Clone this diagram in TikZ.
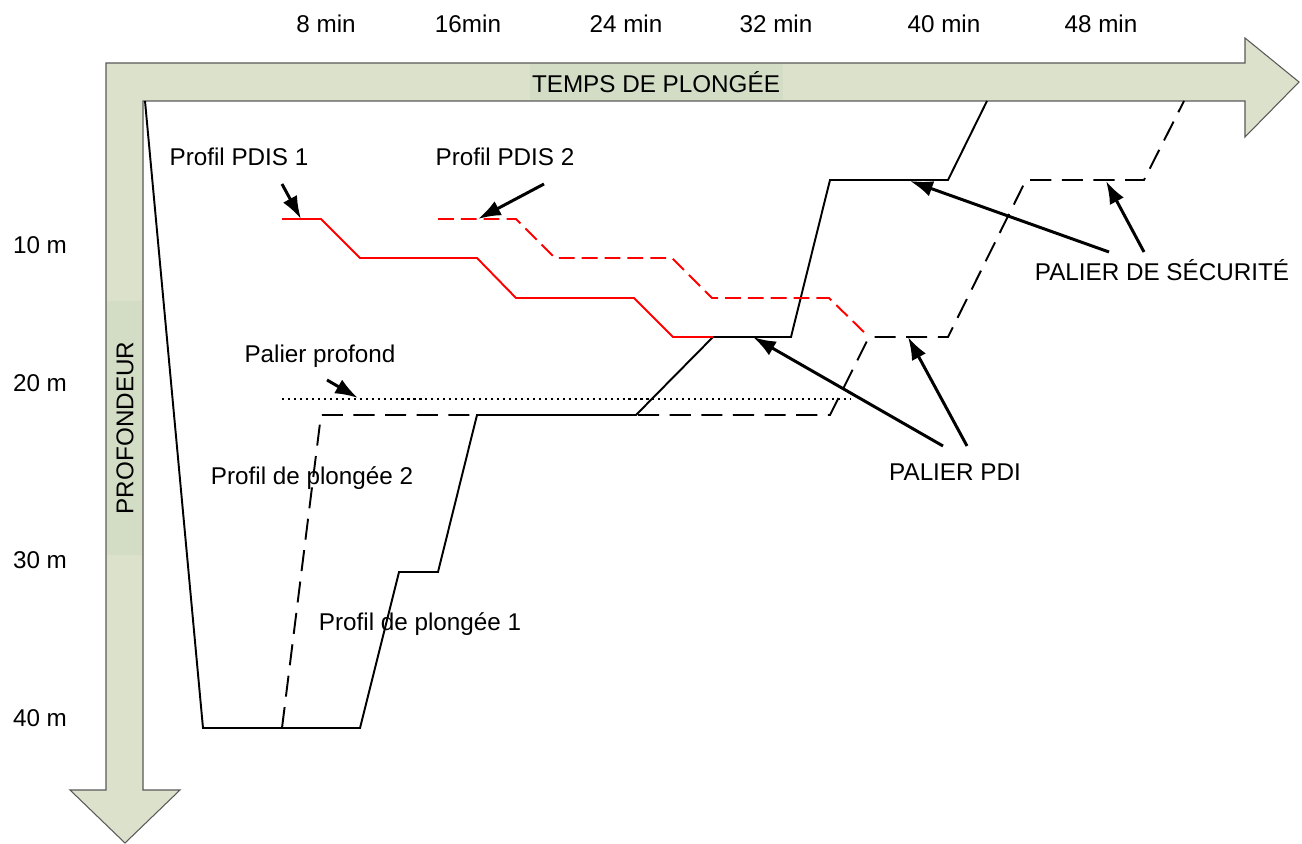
\documentclass[tikz,border=0pt]{standalone}
\usepackage{fontspec}
\setmainfont{Liberation Sans}
\usepackage{xcolor}
\usepackage{tikz}
\usetikzlibrary{arrows.meta}
\definecolor{axisfill}{RGB}{220,225,204}
\definecolor{axislabel}{RGB}{211,221,197}
\definecolor{pdisred}{RGB}{255,0,0}

\begin{document}
\begin{tikzpicture}[x=0.02cm, y=-0.02cm,
  axisarrow/.style={draw=black!65, fill=axisfill, line width=0.6pt},
  labelnode/.style={font=\fontsize{13.8}{17}\selectfont, inner sep=0pt},
  profil/.style={line width=1.1pt, line join=miter},
  pointer/.style={line width=1.7pt, -{Latex[length=13pt,width=9pt]}}]

\useasboundingbox (0,0) rectangle (1302,844);

\filldraw[axisarrow] (106,63) -- (1245,63) -- (1245,38) -- (1299,82) -- (1245,137) -- (1245,101) -- (143,101) -- (143,790) -- (180,790) -- (125,843) -- (70,790) -- (106,790) -- cycle;
\fill[axislabel] (530,64) rectangle (783,100);
\fill[axislabel] (107,301) rectangle (142,555);

\node[labelnode] at (656,82) (temps) {TEMPS DE PLONGÉE};
\node[labelnode, rotate=90] at (125,428) (profondeur) {PROFONDEUR};

\node[labelnode] at (326,24) (t8) {8 min};
\node[labelnode] at (468,24) (t16) {16min};
\node[labelnode] at (626,24) (t24) {24 min};
\node[labelnode] at (776,24) (t32) {32 min};
\node[labelnode] at (944,24) (t40) {40 min};
\node[labelnode] at (1101,24) (t48) {48 min};

\node[labelnode] at (40,245) (d10) {10 m};
\node[labelnode] at (40,383) (d20) {20 m};
\node[labelnode] at (40,560) (d30) {30 m};
\node[labelnode] at (40,718) (d40) {40 m};

\draw[profil] (145,101) -- (203,728) -- (360,728) -- (399,572) -- (438,572) -- (477,415) -- (636,415) -- (713,337) -- (791,337) -- (830,180) -- (948,180) -- (987,101);
\draw[profil, dash pattern=on 12pt off 6pt] (282,728) -- (321,415) -- (830,415) -- (869,337) -- (948,337) -- (1026,180) -- (1144,180) -- (1184,101);
\draw[profil, pdisred] (282,219) -- (321,219) -- (360,258) -- (477,258) -- (516,298) -- (634,298) -- (673,337) -- (713,337);
\draw[profil, pdisred, dash pattern=on 9pt off 4pt] (438,219) -- (516,219) -- (555,258) -- (672,258) -- (712,298) -- (829,298) -- (869,337);
\draw[line width=1pt, dash pattern=on 1.2pt off 2.2pt] (282,399) -- (851,399);

\node[labelnode] at (239,157) (pdis1) {Profil PDIS 1};
\node[labelnode] at (505,157) (pdis2) {Profil PDIS 2};
\node[labelnode] at (320,356) (profond) {Palier profond};
\node[labelnode] at (312,478) (plongee2) {Profil de plongée 2};
\node[labelnode] at (420,624) (plongee1) {Profil de plongée 1};
\node[labelnode] at (955,472) (pdi) {PALIER PDI};
\node[labelnode] at (1162,270) (securite) {PALIER DE SÉCURITÉ};

\coordinate (pdis1from) at (282,184);
\coordinate (pdis1to) at (301,219);
\coordinate (pdis2from) at (544,184);
\coordinate (pdis2to) at (478,219);
\coordinate (profondfrom) at (327,380);
\coordinate (profondto) at (358,398);
\coordinate (pdiafrom) at (943,446);
\coordinate (pdiato) at (753,337);
\coordinate (pdibfrom) at (967,446);
\coordinate (pdibto) at (908,337);
\coordinate (secafrom) at (1109,252);
\coordinate (secato) at (910,181);
\coordinate (secbfrom) at (1144,252);
\coordinate (secbto) at (1106,181);

\draw[pointer] (pdis1from) -- (pdis1to);
\draw[pointer] (pdis2from) -- (pdis2to);
\draw[pointer] (profondfrom) -- (profondto);
\draw[pointer] (pdiafrom) -- (pdiato);
\draw[pointer] (pdibfrom) -- (pdibto);
\draw[pointer] (secafrom) -- (secato);
\draw[pointer] (secbfrom) -- (secbto);

\end{tikzpicture}
\end{document}
